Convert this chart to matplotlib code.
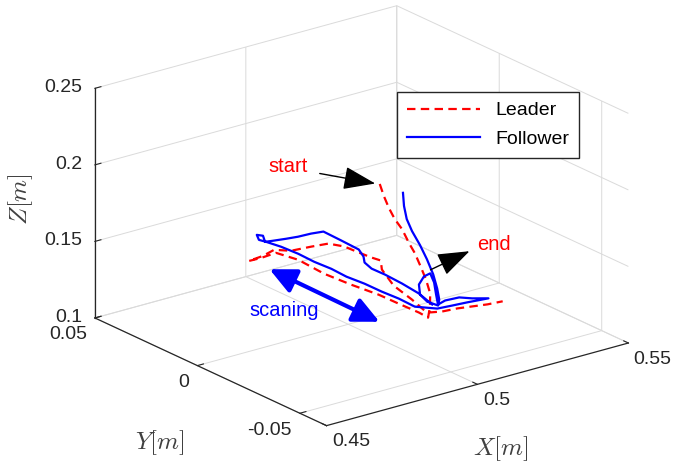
import matplotlib
matplotlib.use('Agg')
import matplotlib.pyplot as plt
from matplotlib.patches import FancyArrowPatch

plt.rcParams['font.family'] = ['Liberation Sans', 'DejaVu Sans']
plt.rcParams['mathtext.fontset'] = 'cm'
plt.rcParams['grid.color'] = '#dadada'
plt.rcParams['grid.linewidth'] = 0.7
plt.rcParams['xtick.color'] = '#262626'
plt.rcParams['ytick.color'] = '#262626'

# ---------------- data ----------------
leader_x = [0.5077, 0.5087, 0.5112, 0.5143, 0.5182, 0.5202, 0.5224, 0.5229, 0.5226, 0.5206,
            0.5181, 0.5155, 0.5145, 0.5122, 0.5100, 0.5067, 0.5039, 0.5027, 0.4998, 0.4937,
            0.4891, 0.4943, 0.4994, 0.5025, 0.5085, 0.5135, 0.5162, 0.5172, 0.5183, 0.5189,
            0.5192, 0.5165, 0.5168, 0.5168, 0.5205, 0.5250, 0.5291, 0.5332, 0.5377]
leader_y = [-0.0040, -0.0045, -0.0033, -0.0016, 0.0006, 0.0001, 0.0005, -0.0013, -0.0046, -0.0096,
            -0.0132, -0.0161, -0.0132, -0.0067, -0.0001, 0.0084, 0.0175, 0.0284, 0.0350, 0.0333,
            0.0325, 0.0333, 0.0353, 0.0316, 0.0307, 0.0296, 0.0258, 0.0203, 0.0156, 0.0120,
            0.0119, 0.0022, -0.0063, -0.0136, -0.0156, -0.0163, -0.0177, -0.0191, -0.0198]
leader_z = [0.190, 0.182, 0.172, 0.162, 0.152, 0.142, 0.134, 0.127, 0.120, 0.115,
            0.110, 0.106, 0.108, 0.111, 0.114, 0.117, 0.120, 0.123, 0.125, 0.126,
            0.127, 0.127, 0.127, 0.127, 0.127, 0.127, 0.126, 0.125, 0.124, 0.124,
            0.118, 0.115, 0.111, 0.107, 0.107, 0.107, 0.107, 0.107, 0.107]

follower_x = [0.5120, 0.5118, 0.5127, 0.5139, 0.5161, 0.5181, 0.5195, 0.5202, 0.5198, 0.5189,
              0.5177, 0.5180, 0.5202, 0.5235, 0.5255, 0.5236, 0.5214, 0.5200, 0.5240, 0.5283,
              0.5306, 0.5340, 0.5291, 0.5246, 0.5201, 0.5156, 0.5145, 0.5127, 0.5113, 0.5093,
              0.5083, 0.5065, 0.5054, 0.5036, 0.5013, 0.5000, 0.5018, 0.5027, 0.5004, 0.5025,
              0.5048, 0.5082, 0.5123, 0.5158, 0.5162, 0.5165, 0.5157, 0.5153, 0.5154, 0.5169,
              0.5185, 0.5196, 0.5195]
follower_y = [-0.0090, -0.0098, -0.0098, -0.0106, -0.0113, -0.0117, -0.0127, -0.0136, -0.0152, -0.0160,
              -0.0124, -0.0085, -0.0047, -0.0023, -0.0024, -0.0071, -0.0113, -0.0143, -0.0119, -0.0124,
              -0.0154, -0.0183, -0.0151, -0.0145, -0.0138, -0.0095, -0.0033, 0.0024, 0.0087, 0.0146,
              0.0205, 0.0262, 0.0324, 0.0381, 0.0420, 0.0436, 0.0473, 0.0456, 0.0412, 0.0405,
              0.0374, 0.0366, 0.0363, 0.0354, 0.0273, 0.0192, 0.0157, 0.0146, 0.0113, 0.0071,
              0.0011, -0.0056, -0.0122]
follower_z = [0.185, 0.177, 0.168, 0.160, 0.150, 0.140, 0.130, 0.121, 0.115, 0.112,
              0.113, 0.115, 0.118, 0.120, 0.121, 0.119, 0.115, 0.111, 0.110, 0.110,
              0.110, 0.110, 0.108, 0.108, 0.108, 0.109, 0.111, 0.113, 0.115, 0.117,
              0.119, 0.121, 0.123, 0.125, 0.127, 0.128, 0.128, 0.128, 0.128, 0.128,
              0.130, 0.130, 0.130, 0.130, 0.129, 0.128, 0.126, 0.123, 0.121, 0.119,
              0.116, 0.113, 0.110]

x_ticks = [0.45, 0.5, 0.55]
y_ticks = [-0.05, 0, 0.05]
z_ticks = [0.1, 0.15, 0.2, 0.25]
x_ticklabels = ['0.45', '0.5', '0.55']
y_ticklabels = ['-0.05', '0', '0.05']
z_ticklabels = ['0.1', '0.15', '0.2', '0.25']
x_lim = (0.45, 0.55)
y_lim = (-0.063, 0.05)
z_lim = (0.1, 0.25)

# ---------------- figure ----------------
W, H = 677.0, 465.0
fig = plt.figure(figsize=(W / 100, H / 100), dpi=100)
ax = fig.add_axes([-0.0948, -0.098, 1.235, 1.235], projection='3d', proj_type='ortho')
ax.set_box_aspect((1, 1, 0.646))
ax.view_init(elev=20.9, azim=-127.5)

ax.plot(leader_x, leader_y, leader_z, color='red', lw=1.6, dashes=(3.8, 2.4), label='Leader')
ax.plot(follower_x, follower_y, follower_z, color='blue', lw=1.6, label='Follower')

ax.set_xlim(*x_lim)
ax.set_ylim(*y_lim)
ax.set_zlim(*z_lim)
ax.set_xticks(x_ticks, x_ticklabels, fontsize=14)
ax.set_yticks(y_ticks, y_ticklabels, fontsize=14)
ax.set_zticks(z_ticks, z_ticklabels, fontsize=14)

for axis in (ax.xaxis, ax.yaxis, ax.zaxis):
    axis.set_pane_color((1, 1, 1, 1))
    axis.pane.set_edgecolor('none')
    axis.line.set_color('#262626')
    axis.line.set_linewidth(0.9)
    axis._axinfo['tick']['inward_factor'] = 0.0
    axis._axinfo['tick']['outward_factor'] = 0.25

ax.tick_params(axis='x', pad=-3.0)
ax.tick_params(axis='y', pad=-2.2)
ax.tick_params(axis='z', pad=-3.0)
for lbl in ax.get_xticklabels():
    lbl.set_ha('left')
    lbl.set_va('top')
for lbl in ax.get_yticklabels():
    lbl.set_ha('right')
    lbl.set_va('top')
for lbl in ax.get_zticklabels():
    lbl.set_ha('right')
    lbl.set_va('center')


def fp(x, y):
    return (x / W, 1 - y / H)


# axis labels (horizontal, as in the original)
fig.text(*fp(501, 449), r'$X[m]$', fontsize=18, color='#404040', ha='center', va='center')
fig.text(*fp(160, 443), r'$Y[m]$', fontsize=18, color='#404040', ha='center', va='center')
fig.text(*fp(21, 199), r'$Z[m]$', fontsize=18, color='#404040', ha='center', va='center',
         rotation=90)

fig.legend(loc='upper left', bbox_to_anchor=fp(397, 92), fontsize=14,
           frameon=True, fancybox=False, edgecolor='#262626', framealpha=1,
           handlelength=3.75, handletextpad=0.8, borderpad=0.5, labelspacing=0.58,
           borderaxespad=0.0)

fig.text(*fp(288, 166), 'start', color='red', fontsize=14.5, ha='center', va='center')
fig.text(*fp(494, 244), 'end', color='red', fontsize=14.5, ha='center', va='center')
fig.text(*fp(284, 311), 'scaning', color='blue', fontsize=14.5, ha='center', va='center')

fig.add_artist(FancyArrowPatch(fp(317, 173), fp(378, 184), transform=fig.transFigure,
                               arrowstyle='-|>,head_length=1.25,head_width=0.45',
                               mutation_scale=16, color='black', lw=1.0))
fig.add_artist(FancyArrowPatch(fp(428, 271), fp(472, 250), transform=fig.transFigure,
                               arrowstyle='-|>,head_length=1.25,head_width=0.45',
                               mutation_scale=16, color='black', lw=1.0))
fig.add_artist(FancyArrowPatch(fp(267, 268), fp(382, 323), transform=fig.transFigure,
                               arrowstyle='<|-|>,head_length=0.8,head_width=0.38',
                               mutation_scale=20, color='blue', lw=3.0))

fig.savefig('out.png', dpi=100)
